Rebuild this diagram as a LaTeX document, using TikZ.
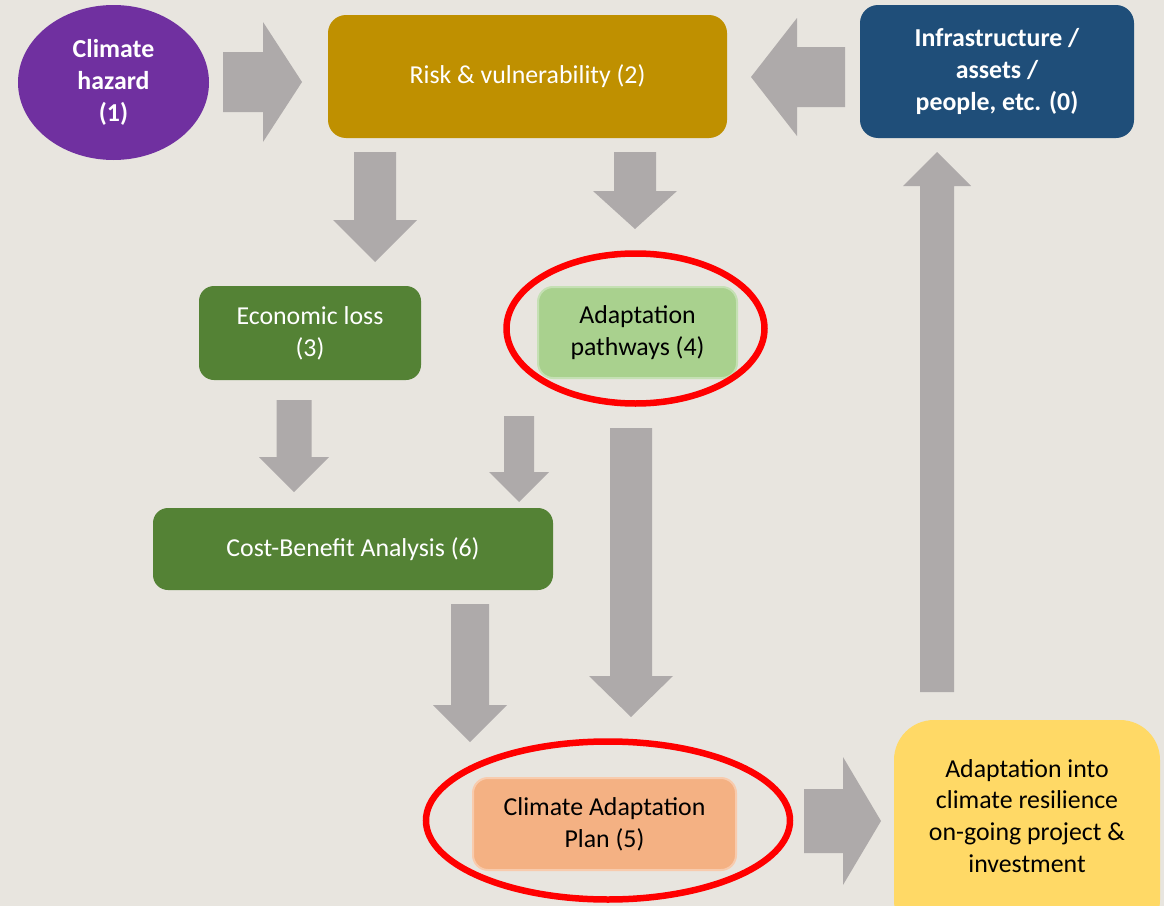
\documentclass[tikz,border=0pt]{standalone}
\usepackage{fontspec}
\setmainfont{Carlito}
\usetikzlibrary{shapes.geometric}
\definecolor{bg}{HTML}{E8E5DF}
\definecolor{arrowgrey}{HTML}{AEAAAA}
\definecolor{hazardpurple}{HTML}{7030A0}
\definecolor{riskgold}{HTML}{BF9000}
\definecolor{infranavy}{HTML}{1F4E79}
\definecolor{darkgreen}{HTML}{548235}
\definecolor{lightgreen}{HTML}{A9D18E}
\definecolor{lightgreenedge}{HTML}{C5E0B4}
\definecolor{peach}{HTML}{F4B183}
\definecolor{peachedge}{HTML}{F8CBAD}
\definecolor{resyellow}{HTML}{FFD966}
\definecolor{ringred}{HTML}{FF0000}
% vertical block arrow: xc, ystart, yheadbase, yapex, shaft half width, head half width
\newcommand\vblockarrow[6]{\fill[arrowgrey] (#1-#5,#2) -- (#1+#5,#2) -- (#1+#5,#3) -- (#1+#6,#3) -- (#1,#4) -- (#1-#6,#3) -- (#1-#5,#3) -- cycle;}
% horizontal block arrow: yc, xstart, xheadbase, xapex, shaft half width, head half width
\newcommand\hblockarrow[6]{\fill[arrowgrey] (#2,#1-#5) -- (#2,#1+#5) -- (#3,#1+#5) -- (#3,#1+#6) -- (#4,#1) -- (#3,#1-#6) -- (#3,#1-#5) -- cycle;}
\begin{document}
\begin{tikzpicture}[x=0.02cm,y=-0.02cm,
  every node/.style={font=\fontsize{14.7}{18.1}\selectfont},
  box/.style={rectangle, rounded corners=0.36cm, align=center, inner sep=0pt, text=white},
  boldtext/.style={font=\fontsize{14.7}{18.1}\selectfont\bfseries},
  ring/.style={ellipse, draw=ringred, line width=0.13cm, inner sep=0pt}]
\fill[bg] (0,0) rectangle (1164,906);
\useasboundingbox (0,0) rectangle (1164,906);
\clip (0,0) rectangle (1164,906);

% nodes
\node[ellipse, fill=hazardpurple, minimum width=191*0.02cm, minimum height=155*0.02cm, inner sep=0pt, align=center, text=white, boldtext] (hazard) at (113.5,82.5) {Climate\\hazard\\(1)};
\node[box, fill=riskgold, minimum width=399*0.02cm, minimum height=123*0.02cm] (risk) at (527.5,76.5) {Risk \& vulnerability (2)};
\node[box, fill=infranavy, minimum width=274*0.02cm, minimum height=133*0.02cm, boldtext] (infra) at (997,71.5) {Infrastructure /\\assets /\\people, etc. (0)};
\node[box, fill=darkgreen, rounded corners=0.3cm, minimum width=222*0.02cm, minimum height=94*0.02cm] (econ) at (310,333) {Economic loss\\(3)};
\node[box, fill=lightgreen, draw=lightgreenedge, line width=0.04cm, rounded corners=0.3cm, text=black, minimum width=199*0.02cm, minimum height=91*0.02cm] (adapt) at (637.5,332.5) {Adaptation\\pathways (4)};
\node[box, fill=darkgreen, rounded corners=0.3cm, minimum width=400*0.02cm, minimum height=82*0.02cm] (cba) at (353,549) {Cost-Benefit Analysis (6)};
\node[box, fill=peach, draw=peachedge, line width=0.04cm, rounded corners=0.3cm, text=black, minimum width=263*0.02cm, minimum height=92*0.02cm] (plan) at (604.5,824) {Climate Adaptation\\Plan (5)};
\node[box, fill=resyellow, rounded corners=0.8cm, minimum width=266*0.02cm, minimum height=220*0.02cm] (res) at (1027,830) {};
\node[align=center, text=black, inner sep=0pt] (restext) at (1027,816) {Adaptation into\\climate resilience\\on-going project \&\\investment};

% red rings
\node[ring, minimum width=258*0.02cm, minimum height=150*0.02cm] (ring4) at (635.5,328.5) {};
\node[ring, minimum width=364*0.02cm, minimum height=158*0.02cm] (ring5) at (608,820.5) {};

% block arrows
\hblockarrow{82}{223}{263}{302}{30}{60}
\hblockarrow{77}{845}{797}{751}{30}{59}
\vblockarrow{375}{152}{220}{262}{21}{42}
\vblockarrow{635}{152}{191}{229}{21}{42}
\vblockarrow{294}{400}{457}{492}{17.5}{35}
\vblockarrow{519}{416}{472}{502}{15}{30}
\vblockarrow{470}{604}{705}{742}{19}{37}
\vblockarrow{631}{428}{676}{717}{21}{42}
\hblockarrow{821}{804}{843}{881}{32}{64}
\vblockarrow{937}{692}{186}{152}{17}{34}
\end{tikzpicture}
\end{document}
